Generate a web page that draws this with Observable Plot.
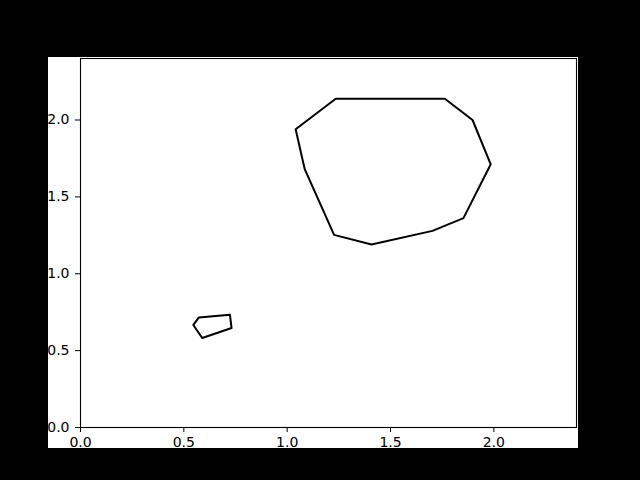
<!DOCTYPE html>
<html>
<head>
<meta charset="utf-8">
<script src="https://cdn.jsdelivr.net/npm/d3@7"></script>
<script src="https://cdn.jsdelivr.net/npm/@observablehq/plot@0.6"></script>
<style>
  html, body { margin: 0; padding: 0; background: black; width: 640px; height: 480px; overflow: hidden; }
  #chart { position: absolute; left: 48px; top: 57px; width: 530px; height: 391px; background: white; overflow: hidden; }
</style>
</head>
<body>
<div id="chart"></div>
<script>
// two outlines
const bigX = [1.041, 1.235, 1.763, 1.897, 1.985, 1.853, 1.703, 1.408, 1.227, 1.085]
const bigY = [1.940, 2.138, 2.138, 2.000, 1.712, 1.362, 1.279, 1.190, 1.253, 1.680]
const smallX = [0.546, 0.573, 0.723, 0.731, 0.589]
const smallY = [0.667, 0.716, 0.734, 0.647, 0.582]
const tickVals = [0, 0.5, 1.0, 1.5, 2.0]

const pts = [
  ...bigX.map((x, i) => ({x, y: bigY[i], shape: 'big'})),
  ...smallX.map((x, i) => ({x, y: smallY[i], shape: 'small'})),
]

let chart = Plot.plot({
  width: 530,
  height: 391,
  marginLeft: 32,
  marginRight: 2,
  marginTop: 1,
  marginBottom: 21,
  style: {fontFamily: 'DejaVu Sans', fontSize: '14px', background: 'white', color: 'black', overflow: 'hidden'},
  x: {domain: [0, 2.4], ticks: tickVals, tickFormat: d3.format('.1f'), label: null, tickSize: 5, tickPadding: 5},
  y: {domain: [0, 2.4], ticks: tickVals, tickFormat: d3.format('.1f'), label: null, tickSize: 5, tickPadding: 6},
  marks: [
    Plot.frame({stroke: 'black', strokeWidth: 1.1}),
    Plot.line(pts, {x: 'x', y: 'y', z: 'shape', curve: 'linear-closed', stroke: 'black', strokeWidth: 2}),
  ],
})
d3.select('#chart').append(() => chart)
</script>
</body>
</html>
